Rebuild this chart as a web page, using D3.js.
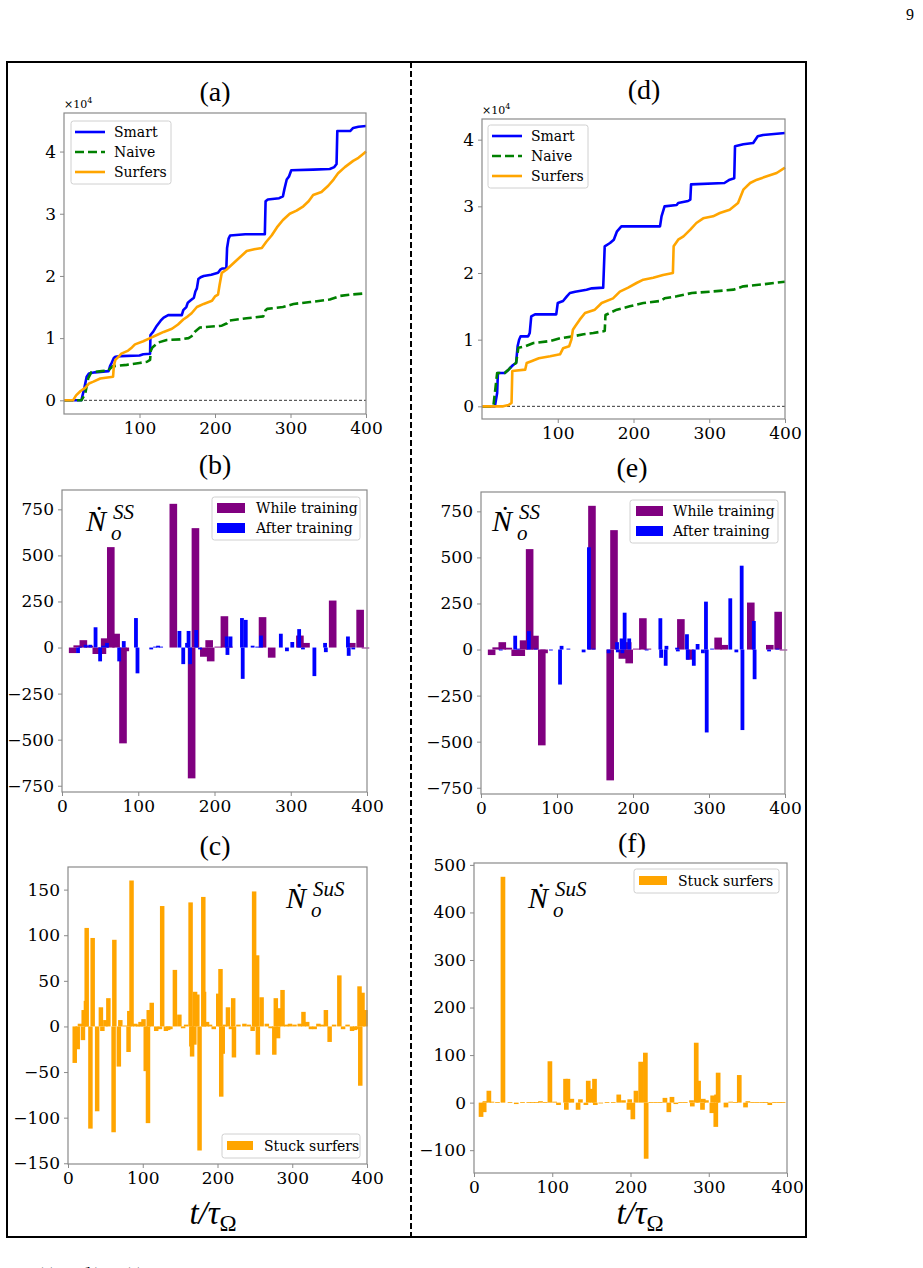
<!DOCTYPE html>
<html><head><meta charset="utf-8">
<script src="https://cdn.jsdelivr.net/npm/d3@7"></script>
<style>body{margin:0;background:#fff}</style></head>
<body>
<svg id="c" width="923" height="1268"></svg>
<script>
// ---------------- DATA ----------------
// cumulative counts (units of 1e4) vs t/tau
const smartA = [[0,0],[23,0],[27,0.2],[30,0.38],[33,0.43],[41,0.45],[59,0.47],[61,0.55],[63,0.6],[66,0.68],[68,0.7],[75,0.71],[100,0.72],[105,0.74],[114,0.75],[114.5,1.05],[118,1.1],[123,1.2],[128,1.28],[132,1.33],[138,1.37],[156,1.37],[158,1.45],[162,1.5],[164,1.57],[167,1.6],[172,1.65],[174,1.75],[176,1.8],[178,1.95],[181,1.98],[185,2.0],[195,2.02],[204,2.05],[207,2.1],[210,2.12],[215,2.12],[216,2.45],[218,2.6],[220,2.65],[240,2.67],[266,2.67],[267,3.2],[270,3.23],[285,3.25],[290,3.28],[292,3.4],[295,3.55],[298,3.6],[301,3.7],[330,3.71],[352,3.72],[358,3.75],[361,3.8],[362,4.33],[379,4.33],[383,4.38],[390,4.4],[400,4.41]];
const naiveA = [[0,0],[23,0],[28,0.1],[32,0.35],[36,0.45],[50,0.47],[59,0.48],[62,0.52],[65,0.55],[83,0.57],[100,0.6],[110,0.62],[114,0.65],[115,0.8],[117,0.85],[125,0.93],[136,0.97],[154,0.98],[165,1.0],[169,1.03],[173,1.1],[180,1.17],[209,1.2],[216,1.24],[218,1.28],[242,1.32],[264,1.35],[267,1.45],[269,1.47],[290,1.5],[304,1.55],[326,1.58],[352,1.62],[366,1.68],[379,1.7],[400,1.72]];
const surfersA = [[0,0],[12,0],[16,0.08],[22,0.15],[28,0.2],[33,0.27],[39,0.3],[48,0.35],[65,0.38],[66,0.55],[68,0.65],[72,0.7],[76,0.75],[85,0.8],[90,0.85],[94,0.9],[105,0.95],[114,1.0],[123,1.05],[132,1.1],[143,1.15],[151,1.22],[158,1.3],[164,1.35],[169,1.4],[176,1.5],[185,1.55],[196,1.6],[200,1.67],[204,1.7],[206,1.85],[209,2.05],[215,2.1],[224,2.2],[233,2.3],[242,2.4],[252,2.43],[262,2.45],[268,2.55],[275,2.65],[282,2.78],[290,2.9],[299,3.0],[308,3.05],[317,3.12],[324,3.2],[330,3.3],[341,3.35],[350,3.45],[357,3.55],[363,3.65],[372,3.75],[383,3.85],[390,3.9],[397,3.97],[400,4.0]];
const smartD = [[0,0],[17,0],[20,0.2],[21,0.5],[30,0.5],[35,0.55],[41,0.62],[45,0.65],[47,0.9],[49,1.0],[51,1.05],[61,1.05],[63,1.1],[65,1.35],[70,1.38],[98,1.38],[100,1.55],[107,1.58],[112,1.65],[116,1.7],[123,1.72],[138,1.75],[145,1.77],[160,1.78],[162,2.4],[169,2.45],[174,2.5],[178,2.62],[184,2.7],[235,2.7],[237,2.85],[241,3.0],[257,3.02],[259,3.05],[272,3.08],[275,3.1],[276,3.33],[320,3.35],[327,3.4],[333,3.42],[334,3.9],[345,3.93],[358,3.95],[364,4.05],[371,4.07],[400,4.1]];
const naiveD = [[0,0],[15,0],[18,0.3],[20,0.5],[30,0.5],[35,0.55],[41,0.62],[45,0.65],[47,0.8],[48,0.88],[57,0.9],[68,0.95],[90,0.98],[103,1.02],[120,1.05],[134,1.08],[147,1.1],[162,1.13],[163,1.37],[178,1.45],[195,1.5],[213,1.55],[235,1.58],[241,1.62],[257,1.65],[277,1.7],[301,1.72],[332,1.75],[345,1.8],[371,1.83],[400,1.87]];
const surfersD = [[0,0],[28,0],[35,0.02],[39,0.05],[40,0.53],[57,0.55],[59,0.65],[66,0.68],[75,0.72],[90,0.75],[103,0.78],[107,0.87],[115,0.9],[118,1.0],[120,1.15],[123,1.2],[129,1.3],[136,1.4],[149,1.45],[158,1.55],[173,1.62],[182,1.72],[193,1.78],[204,1.85],[213,1.9],[226,1.93],[239,1.97],[252,2.0],[253,2.4],[259,2.5],[266,2.55],[275,2.65],[283,2.75],[292,2.82],[305,2.85],[314,2.9],[327,2.95],[338,3.05],[345,3.25],[354,3.35],[363,3.4],[376,3.45],[389,3.5],[400,3.58]];

// rate bars [t, value]
const whileTraining = [[14,-30],[20,12],[28,40],[36,10],[45,-35],[56,50],[53,-35],[64,545],[71,75],[80,-520],[83,-20],[146,780],[170,-710],[175,648],[186,-50],[193,40],[195,-75],[205,5],[213,170],[219,5],[263,165],[275,-55],[312,65],[320,25],[355,255],[380,25],[391,205],[398,-5]];
const afterTrainingB = [[21,-30],[24,5],[31,15],[37,15],[44,110],[50,-75],[54,10],[59,25],[75,-75],[81,35],[97,160],[99,-140],[117,-10],[122,5],[126,10],[130,5],[154,90],[159,-90],[164,25],[166,90],[168,-90],[176,95],[181,-10],[216,60],[217,-40],[221,60],[236,160],[237,-170],[241,150],[250,10],[256,5],[261,65],[287,75],[295,-20],[302,30],[311,100],[316,-10],[331,-155],[345,25],[346,-25],[375,60],[376,-45],[382,-10]];
const afterTrainingE = [[26,-5],[45,75],[49,5],[63,100],[72,5],[92,-5],[104,-190],[106,20],[115,5],[135,-15],[142,555],[148,5],[168,-20],[179,40],[180,-15],[185,60],[186,-20],[189,200],[195,60],[218,-5],[236,170],[237,-45],[243,-88],[244,20],[258,10],[259,-10],[271,83],[272,-55],[280,-88],[285,30],[292,-20],[296,260],[297,-450],[304,5],[328,278],[336,-15],[343,455],[344,-437],[359,155],[360,-161],[379,-10],[390,5]];
const stuckC = [[9,-40],[13,-25],[16,3],[20,-15],[21,18],[24,28],[25,108],[30,-112],[33,97],[39,-93],[44,21],[46,-5],[50,7],[54,31],[61,-116],[62,95],[68,-44],[70,7],[76,1],[81,-28],[82,17],[85,160],[90,3],[94,2],[97,5],[101,8],[104,-49],[107,-106],[108,18],[112,26],[118,-5],[123,-3],[126,132],[131,-5],[134,-4],[137,-3],[143,62],[149,13],[154,-2],[158,2],[164,136],[165,-22],[166,-33],[169,-20],[170,38],[173,35],[176,-136],[181,142],[182,38],[186,5],[190,2],[195,-3],[201,36],[204,63],[205,-77],[207,-30],[210,2],[214,21],[218,-3],[221,31],[222,-34],[228,2],[236,3],[242,2],[247,-5],[249,148],[251,30],[253,78],[254,-31],[259,32],[266,3],[271,-2],[276,-31],[278,31],[281,-13],[282,20],[287,40],[292,2],[297,3],[303,2],[310,3],[315,16],[320,5],[325,-3],[330,-3],[335,3],[340,2],[345,18],[350,-17],[356,2],[363,56],[368,-3],[374,2],[380,-5],[384,-4],[387,-3],[390,44],[391,-65],[394,37],[398,18]];
const stuckF = [[9,-30],[13,-20],[14,3],[19,25],[23,2],[30,1],[37,475],[46,1],[54,-3],[62,1],[70,1],[75,1],[80,1],[85,3],[91,1],[97,87],[103,2],[108,-5],[117,50],[118,-15],[120,50],[125,8],[133,-15],[136,7],[143,-5],[146,46],[151,29],[154,50],[155,-5],[162,-1],[170,1],[178,1],[185,17],[191,5],[198,-15],[199,7],[203,-35],[207,25],[213,86],[219,105],[220,-118],[226,1],[232,1],[238,1],[244,10],[249,-20],[253,12],[258,-3],[264,1],[270,1],[278,5],[279,-8],[284,126],[287,46],[292,-15],[293,8],[297,5],[304,-22],[305,15],[309,-51],[310,17],[312,63],[322,-10],[328,2],[334,1],[339,58],[347,-10],[350,3],[356,1],[362,1],[368,1],[373,1],[378,-5],[384,1],[390,1],[395,1]];

// tick labels
const xTicksTop = [100,200,300,400];
const xTicksAll = [0,100,200,300,400];
const yTicksCum = [0,1,2,3,4];
const yTicksSS = [-750,-500,-250,0,250,500,750];
const yTicksC = [-150,-100,-50,0,50,100,150];
const yTicksF = [-100,0,100,200,300,400,500];
const lineLabels = ["Smart","Naive","Surfers"];
const barLabelsSS = ["While training","After training"];
const barLabelStuck = "Stuck surfers";

// ---------------- DRAW ----------------
const svg = d3.select('#c');
const TICKFONT = "'DejaVu Serif', serif";
const TITLEFONT = "'Liberation Serif', 'Times New Roman', serif";
const SPINE = "#8a8a8a";

// page furniture
svg.append('text').attr('x',910).attr('y',20).attr('text-anchor','middle')
  .attr('font-family',TITLEFONT).attr('font-size',16).text('9');
svg.append('rect').attr('x',7).attr('y',62).attr('width',799).attr('height',1175)
  .attr('fill','none').attr('stroke','#000').attr('stroke-width',2);
svg.append('line').attr('x1',411).attr('x2',411).attr('y1',62).attr('y2',1237)
  .attr('stroke','#000').attr('stroke-width',2).attr('stroke-dasharray','6,3');
[['(a)',47],['(b)',91],['(c)',134]].forEach(([t,x])=>{
  svg.append('text').attr('x',x).attr('y',1279).attr('text-anchor','middle')
    .attr('font-family',TITLEFONT).attr('font-size',16).text(t);
});

function makePanel(p){
  const x = d3.scaleLinear().domain([0,400]).range([p.x0,p.x1]);
  const y = d3.scaleLinear().domain(p.ydom).range([p.y1,p.y0]);
  const g = svg.append('g');
  g.append('text').attr('x',p.tx).attr('y',p.ty).attr('text-anchor','middle')
    .attr('font-family',TITLEFONT).attr('font-size',28).text(p.title);
  const ax = g.append('g').attr('transform',`translate(0,${p.y1})`)
    .call(d3.axisBottom(x).tickValues(p.xt).tickSize(4).tickPadding(4).tickFormat(d3.format('d')));
  const ay = g.append('g').attr('transform',`translate(${p.x0},0)`)
    .call(d3.axisLeft(y).tickValues(p.yt).tickSize(4).tickPadding(4).tickFormat(d3.format('d')));
  [ax,ay].forEach(a=>{
    a.select('.domain').remove();
    a.selectAll('line').attr('stroke',SPINE);
    a.selectAll('text').attr('font-family',TICKFONT).attr('font-size',17).attr('fill','#000');
  });
  const body = g.append('g');
  g.append('rect').attr('x',p.x0).attr('y',p.y0).attr('width',p.x1-p.x0).attr('height',p.y1-p.y0)
    .attr('fill','none').attr('stroke',SPINE).attr('stroke-width',1.2);
  return {x,y,g,body,x0:p.x0,y0:p.y0};
}

function bars(P, data, color, w){
  P.body.selectAll(null).data(data).enter().append('rect')
    .attr('x',d=>P.x(d[0]-w/2)).attr('width',d=>P.x(w)-P.x(0))
    .attr('y',d=>Math.min(P.y(0),P.y(d[1])))
    .attr('height',d=>Math.max(0.8,Math.abs(P.y(d[1])-P.y(0))))
    .attr('fill',color);
}

function lines(P, series){
  const ln = d3.line().x(d=>P.x(d[0])).y(d=>P.y(d[1]));
  P.body.append('line').attr('x1',P.x(0)).attr('x2',P.x(400)).attr('y1',P.y(0)).attr('y2',P.y(0))
    .attr('stroke','#000').attr('stroke-width',0.8).attr('stroke-dasharray','3,2');
  series.forEach(s=>{
    P.body.append('path').datum(s.data).attr('d',ln).attr('fill','none')
      .attr('stroke',s.color).attr('stroke-width',2.6)
      .attr('stroke-dasharray',s.dash||null).attr('stroke-linejoin','round');
  });
}

function legendBox(g,x,y,w,h){
  g.append('rect').attr('x',x).attr('y',y).attr('width',w).attr('height',h).attr('rx',2.5)
    .attr('fill','#fff').attr('fill-opacity',0.85).attr('stroke','#d0d0d0').attr('stroke-width',1);
}
function legendText(g,x,y,t){
  g.append('text').attr('x',x).attr('y',y).attr('dy','0.35em').attr('font-family',TICKFONT)
    .attr('font-size',14).text(t);
}

function cumLegend(P, bx, by, series){
  legendBox(P.g,bx,by,100,63);
  series.forEach((s,i)=>{
    const yy = by+11+i*20;
    P.g.append('line').attr('x1',bx+4).attr('x2',bx+34).attr('y1',yy).attr('y2',yy)
      .attr('stroke',s.color).attr('stroke-width',2.6).attr('stroke-dasharray',s.dash||null);
    legendText(P.g,bx+43,yy,s.label);
  });
}

function sci(P){
  const t = P.g.append('text').attr('x',P.x0).attr('y',P.y0-5).attr('font-family',TICKFONT).attr('font-size',11);
  t.append('tspan').text('×10');
  t.append('tspan').attr('dy',-5).attr('font-size',8).text('4');
}

function nDot(g,x,y,sup){
  g.append('text').attr('x',x).attr('y',y).attr('font-family',TITLEFONT)
    .attr('font-style','italic').attr('font-size',30).text('Ṅ');
  g.append('text').attr('x',x+27).attr('y',y-12).attr('font-family',TITLEFONT)
    .attr('font-style','italic').attr('font-size',21).text(sup);
  g.append('text').attr('x',x+25).attr('y',y+9).attr('font-family',TITLEFONT)
    .attr('font-style','italic').attr('font-size',21).text('o');
}

function xlabel(g,cx,y){
  const t = g.append('text').attr('x',cx).attr('y',y).attr('text-anchor','middle')
    .attr('font-family',TITLEFONT).attr('font-style','italic').attr('font-size',33);
  t.append('tspan').text('t/τ');
  t.append('tspan').attr('dy',7).attr('font-size',23).attr('font-style','normal').text('Ω');
}

// ---- (a)
const PA = makePanel({x0:64,x1:366,y0:113,y1:414,ydom:[-0.22,4.62],xt:xTicksTop,yt:yTicksCum,title:'(a)',tx:215,ty:101});
const serA = [{data:smartA,color:'#0000ff',label:lineLabels[0]},{data:naiveA,color:'#008000',dash:'9,4',label:lineLabels[1]},{data:surfersA,color:'#ffa500',label:lineLabels[2]}];
lines(PA,serA);
cumLegend(PA,71,121,serA);
sci(PA);

// ---- (d)
const PD = makePanel({x0:482,x1:785,y0:119,y1:419,ydom:[-0.19,4.31],xt:xTicksTop,yt:yTicksCum,title:'(d)',tx:644,ty:99});
const serD = [{data:smartD,color:'#0000ff',label:lineLabels[0]},{data:naiveD,color:'#008000',dash:'9,4',label:lineLabels[1]},{data:surfersD,color:'#ffa500',label:lineLabels[2]}];
lines(PD,serD);
cumLegend(PD,488,125,serD);
sci(PD);

// ---- (b)
const PB = makePanel({x0:62,x1:367,y0:490,y1:792,ydom:[-784,855],xt:xTicksAll,yt:yTicksSS,title:'(b)',tx:215,ty:474});
bars(PB,whileTraining,'#800080',10);
bars(PB,afterTrainingB,'#0000ff',5);
legendBox(PB.g,212,497,148,43);
PB.g.append('rect').attr('x',217).attr('y',503).attr('width',28).attr('height',10).attr('fill','#800080');
PB.g.append('rect').attr('x',217).attr('y',523).attr('width',28).attr('height',10).attr('fill','#0000ff');
legendText(PB.g,256,508,barLabelsSS[0]);
legendText(PB.g,256,528,barLabelsSS[1]);
nDot(PB.g,86,531,'SS');

// ---- (e)
const PE = makePanel({x0:481,x1:785,y0:492,y1:794,ydom:[-784,855],xt:xTicksAll,yt:yTicksSS,title:'(e)',tx:632,ty:477});
bars(PE,whileTraining,'#800080',10);
bars(PE,afterTrainingE,'#0000ff',5);
legendBox(PE.g,630,500,148,43);
PE.g.append('rect').attr('x',636).attr('y',506).attr('width',27).attr('height',10).attr('fill','#800080');
PE.g.append('rect').attr('x',636).attr('y',526).attr('width',27).attr('height',10).attr('fill','#0000ff');
legendText(PE.g,673,511,barLabelsSS[0]);
legendText(PE.g,673,531,barLabelsSS[1]);
nDot(PE.g,492,531,'SS');

// ---- (c)
const PC = makePanel({x0:68,x1:367,y0:867,y1:1164,ydom:[-150.8,174.8],xt:xTicksAll,yt:yTicksC,title:'(c)',tx:215,ty:855});
bars(PC,stuckC,'#ffa500',6);
legendBox(PC.g,222,1134,138,24);
PC.g.append('rect').attr('x',227).attr('y',1141).attr('width',26).attr('height',9).attr('fill','#ffa500');
legendText(PC.g,264,1146,barLabelStuck);
nDot(PC.g,286,908,'SuS');
xlabel(PC.g,213,1224);

// ---- (f)
const PF = makePanel({x0:474,x1:787,y0:863,y1:1173,ydom:[-148,504],xt:xTicksAll,yt:yTicksF,title:'(f)',tx:632,ty:852});
bars(PF,stuckF,'#ffa500',6);
legendBox(PF.g,634,869,145,24);
PF.g.append('rect').attr('x',639).attr('y',876).attr('width',28).attr('height',9).attr('fill','#ffa500');
legendText(PF.g,678,881,barLabelStuck);
nDot(PF.g,528,908,'SuS');
xlabel(PF.g,640,1224);
</script>
</body></html>
